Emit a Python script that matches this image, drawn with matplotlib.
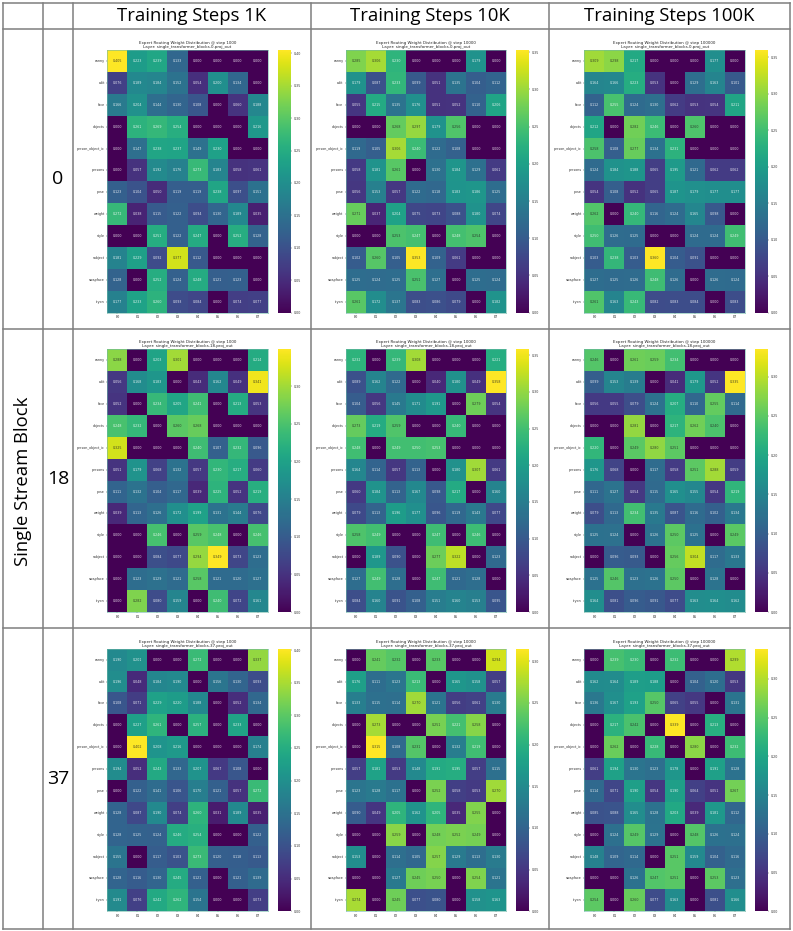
import matplotlib
matplotlib.use('Agg')
import matplotlib.pyplot as plt
from matplotlib.ticker import MultipleLocator
import numpy as np
import seaborn as sns

W, H = 793, 931

tasks = ['canny', 'edit', 'face', 'objects', 'person_object_ic', 'persons',
         'pose', 'weight', 'style', 'subject', 'swapface', 'tryon']
experts = ['E0', 'E1', 'E2', 'E3', 'E4', 'E5', 'E6', 'E7']
steps = [1000, 10000, 100000]
step_names = ['1K', '10K', '100K']
blocks = [0, 18, 37]

b0_1k = [[.405, .223, .239, .133, 0, 0, 0, 0],
         [.076, .189, .184, .152, .054, .200, .134, 0],
         [.166, .204, .144, .130, .108, 0, .060, .188],
         [0, .261, .269, .254, 0, 0, 0, .216],
         [0, .147, .238, .237, .149, .230, 0, 0],
         [0, .057, .192, .176, .273, .183, .058, .061],
         [.123, .104, .050, .119, .119, .238, .097, .151],
         [.272, .038, .115, .122, .094, .130, .189, .035],
         [0, 0, .251, .122, .247, 0, .252, .128],
         [.181, .229, .092, .377, .112, 0, 0, 0],
         [.128, 0, .252, .124, .248, .121, .123, 0],
         [.177, .233, .260, .093, .084, 0, .074, .077]]
b0_10k = [[.285, .306, .230, 0, 0, 0, .179, 0],
          [.179, .087, .233, .099, .051, .135, .104, .112],
          [.055, .215, .135, .176, .051, .052, .110, .206],
          [0, 0, .268, .297, .179, .256, 0, 0],
          [.119, .105, .306, .240, .122, .108, 0, 0],
          [.058, .181, .261, 0, .130, .184, .129, .061],
          [.056, .153, .057, .122, .118, .183, .186, .125],
          [.271, .037, .204, .075, .073, .088, .180, .074],
          [0, 0, .253, .247, 0, .248, .254, 0],
          [.102, .260, .105, .353, .109, .061, 0, 0],
          [.125, .124, .125, .251, .127, 0, .125, .124],
          [.261, .172, .137, .083, .086, .079, 0, .182]]
b0_100k = [[.309, .298, .217, 0, 0, 0, .177, 0],
           [.164, .166, .223, .053, 0, .129, .163, .101],
           [.112, .255, .124, .130, .062, .053, .054, .211],
           [.212, 0, .282, .246, 0, .260, 0, 0],
           [.258, .108, .277, .134, .231, 0, 0, 0],
           [.124, .184, .188, .065, .195, .121, .062, .062],
           [.054, .108, .052, .065, .187, .179, .177, .177],
           [.262, 0, .240, .116, .124, .165, .098, 0],
           [.250, .126, .125, 0, 0, .124, .124, .249],
           [.103, .238, .103, .360, .104, .091, 0, 0],
           [.127, .125, .126, .248, .126, 0, .126, .124],
           [.261, .163, .243, .082, .083, .084, 0, .083]]
b18_1k = [[.288, 0, .203, .301, 0, 0, 0, .214],
          [.056, .168, .183, 0, .043, .162, .049, .341],
          [.052, 0, .234, .205, .241, 0, .213, .053],
          [.248, .232, 0, .260, .268, 0, 0, 0],
          [.325, 0, 0, 0, .240, .107, .232, .096],
          [.051, .179, .068, .132, .057, .230, .217, .060],
          [.111, .132, .104, .117, .039, .225, .052, .219],
          [.039, .113, .126, .172, .199, .131, .144, .076],
          [0, 0, .246, 0, .259, .248, 0, .246],
          [0, 0, .084, .077, .294, .349, .073, .123],
          [0, .123, .129, .121, .258, .121, .120, .127],
          [0, .282, .080, .159, 0, .240, .072, .161]]
b18_10k = [[.232, 0, .239, .308, 0, 0, 0, .221],
           [.089, .162, .122, 0, .040, .180, .049, .358],
           [.104, .056, .145, .171, .191, 0, .279, .054],
           [.273, .219, .259, 0, 0, .240, 0, 0],
           [.248, 0, .249, .250, .253, 0, 0, 0],
           [.164, .114, .057, .113, 0, .180, .307, .061],
           [.060, .184, .113, .167, .098, .217, 0, .160],
           [.079, .113, .196, .177, .096, .119, .143, .077],
           [.258, .249, 0, 0, .247, 0, .246, 0],
           [0, .189, .090, 0, .277, .322, 0, .123],
           [.127, .249, .128, 0, .247, .121, .128, 0],
           [.084, .160, .091, .108, .151, .160, .153, .095]]
b18_100k = [[.246, 0, .261, .259, .234, 0, 0, 0],
            [.099, .153, .139, 0, .041, .179, .052, .335],
            [.056, .055, .079, .124, .207, .110, .255, .114],
            [0, 0, .281, 0, .217, .262, .240, 0],
            [.220, 0, .249, .280, .251, 0, 0, 0],
            [.176, .068, 0, .117, .058, .251, .288, .059],
            [.111, .127, .054, .115, .165, .155, .054, .219],
            [.079, .113, .234, .135, .087, .116, .102, .134],
            [.125, .124, 0, .126, .250, .125, 0, .249],
            [0, .096, .093, 0, .256, .304, .117, .133],
            [.125, .246, .123, .126, .250, 0, .128, 0],
            [.164, .081, .096, .091, .077, .163, .164, .162]]
b37_1k = [[.190, .201, 0, 0, .272, 0, 0, .337],
          [.196, .048, .184, .190, 0, .156, .130, .093],
          [.108, .071, .229, .220, .188, 0, .052, .134],
          [0, .227, .261, 0, .257, 0, .233, 0],
          [0, .402, .208, .216, 0, 0, 0, .174],
          [.194, .052, .243, .133, .207, .067, .108, 0],
          [0, .122, .141, .106, .170, .121, .057, .272],
          [.128, .087, .190, .074, .260, .031, .189, .035],
          [.128, .125, .124, .246, .254, 0, 0, .122],
          [.155, 0, .117, .103, .273, .120, .118, .113],
          [.128, .116, .130, .245, .121, 0, .121, .139],
          [.191, .076, .242, .262, .154, 0, 0, .073]]
b37_10k = [[0, .241, .232, 0, .233, 0, 0, .294],
           [.176, .111, .123, .213, 0, .165, .158, .057],
           [.133, .115, .114, .270, .121, .056, .061, .130],
           [0, .273, 0, 0, .251, .221, .258, 0],
           [0, .315, .108, .231, 0, .132, .219, 0],
           [.057, .181, .053, .148, .191, .195, .057, .115],
           [.123, .128, .117, 0, .252, .058, .053, .270],
           [.090, .049, .205, .162, .205, .035, .255, 0],
           [0, 0, .259, 0, .248, .252, .249, 0],
           [.153, 0, .114, .105, .257, .129, .113, .130],
           [0, 0, .127, .245, .250, 0, .254, .121],
           [.274, 0, .245, .077, .080, 0, .158, .163]]
b37_100k = [[0, .239, .230, 0, .232, 0, 0, .299],
            [.162, .164, .189, .188, 0, .104, .120, .053],
            [.136, .167, .193, .250, .065, .055, 0, .131],
            [0, .217, .242, 0, .339, 0, .213, 0],
            [0, .262, 0, .228, 0, .280, 0, .232],
            [.061, .194, .130, .123, .178, 0, .191, .128],
            [.114, .071, .190, .054, .190, .064, .051, .267],
            [.085, .088, .165, .128, .203, .039, .181, .112],
            [0, .124, .249, .129, 0, .248, .126, .124],
            [.148, .109, .114, 0, .251, .159, .104, .116],
            [0, 0, .126, .247, .251, 0, .253, .123],
            [.254, 0, .260, .077, .163, 0, .081, .166]]

panels = [[b0_1k, b0_10k, b0_100k],
          [b18_1k, b18_10k, b18_100k],
          [b37_1k, b37_10k, b37_100k]]


def px_axes(x0, y0, x1, y1):
    # pixel box, y measured from the top of the picture
    return fig.add_axes([x0 / W, 1 - y1 / H, (x1 - x0) / W, (y1 - y0) / H])


fig = plt.figure(figsize=(W / 100, H / 100), dpi=100)

# table grid
bg = fig.add_axes([0, 0, 1, 1])
bg.set_xlim(0, W)
bg.set_ylim(H, 0)
bg.axis('off')
col_x = [3, 43, 73, 311, 549, 790]
row_y = [3, 29, 329, 628, 929]
for x in col_x:
    bg.plot([x, x], [row_y[0], row_y[-1]], color='#7f7f7f', lw=1.1)
for y in row_y:
    bg.plot([col_x[0], col_x[-1]], [y, y], color='#7f7f7f', lw=1.1)

for j, name in enumerate(step_names):
    bg.text((col_x[j + 2] + col_x[j + 3]) / 2, 16, 'Training Steps ' + name,
            ha='center', va='center', fontsize=13.3, family='Open Sans')
for i, b in enumerate(blocks):
    bg.text(58, (row_y[i + 1] + row_y[i + 2]) / 2, str(b), ha='center', va='center',
            fontsize=14, family='Open Sans')
bg.text(23, 481, 'Single Stream Block', rotation=90, ha='center', va='center',
        fontsize=13.3, family='Open Sans')

heat_x = [(107.3, 267.7), (346, 506), (584.3, 745)]
cbar_x = [(277.7, 291), (516, 529.3), (754.7, 768)]
heat_y = [(50, 312.7), (349.3, 612), (648.7, 911.3)]

for i, b in enumerate(blocks):
    for j, st in enumerate(steps):
        ax = px_axes(heat_x[j][0], heat_y[i][0], heat_x[j][1], heat_y[i][1])
        cax = px_axes(cbar_x[j][0], heat_y[i][0], cbar_x[j][1], heat_y[i][1])
        vals = np.array(panels[i][j])
        sns.heatmap(vals, ax=ax, cbar_ax=cax, cmap='viridis', annot=True, fmt='.3f',
                    annot_kws={'size': 2.3, 'alpha': 0.85},
                    xticklabels=experts, yticklabels=tasks)
        ax.tick_params(axis='both', labelsize=2.4, length=1, width=0.3, pad=0.8,
                       colors='#333333')
        ax.tick_params(axis='y', rotation=0)
        cax.yaxis.set_major_locator(MultipleLocator(0.05))
        cax.yaxis.set_major_formatter('{x:.2f}')
        cax.tick_params(labelsize=2.3, length=1, width=0.3, pad=0.8, colors='#333333')
        for sp in ax.spines.values():
            sp.set_visible(True)
            sp.set_linewidth(0.4)
            sp.set_color('#6fb8a8')
        ax.set_title('Expert Routing Weight Distribution @ step %d\n'
                     'Layer: single_transformer_blocks.%d.proj_out' % (st, b),
                     fontsize=2.85, pad=1.4, color='#222222', linespacing=1.05)

fig.savefig('out.png', dpi=100)
